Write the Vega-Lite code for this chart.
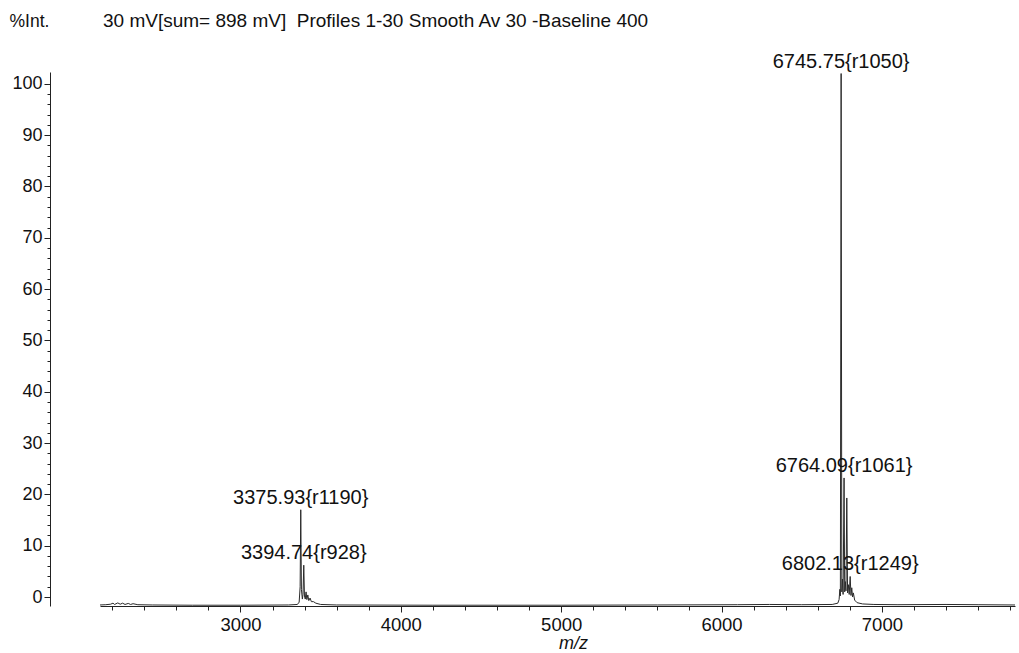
{
  "$schema": "https://vega.github.io/schema/vega-lite/v6.json",
  "width": 915,
  "height": 534,
  "autosize": {"type": "none"},
  "padding": {"left": 100, "top": 72, "right": 4, "bottom": 47},
  "background": "white",
  "config": {
    "view": {"stroke": null},
    "font": "Liberation Sans",
    "axis": {"grid": false, "domainColor": "#222", "tickColor": "#222", "labelColor": "#111", "titleColor": "#111", "labelFont": "Liberation Sans", "titleFont": "Liberation Sans", "titleFontWeight": "normal"}
  },
  "title": {
    "text": "30 mV[sum= 898 mV]\u00a0 Profiles 1-30 Smooth Av 30 -Baseline 400",
    "anchor": "start",
    "frame": "group",
    "offset": -19,
    "dx": 3,
    "fontSize": 19,
    "fontWeight": "normal",
    "font": "Liberation Sans",
    "color": "#111"
  },
  "datasets": {
    "spectrum": [
      {"mz": 2124, "intensity": -1.55},
      {"mz": 2160, "intensity": -1.5},
      {"mz": 2190, "intensity": -1.4},
      {"mz": 2205, "intensity": -1.2},
      {"mz": 2215, "intensity": -1.45},
      {"mz": 2235, "intensity": -1.15},
      {"mz": 2250, "intensity": -1.4},
      {"mz": 2265, "intensity": -1.2},
      {"mz": 2280, "intensity": -1.45},
      {"mz": 2300, "intensity": -1.25},
      {"mz": 2315, "intensity": -1.45},
      {"mz": 2330, "intensity": -1.3},
      {"mz": 2360, "intensity": -1.5},
      {"mz": 2450, "intensity": -1.55},
      {"mz": 2700, "intensity": -1.6},
      {"mz": 3000, "intensity": -1.6},
      {"mz": 3300, "intensity": -1.55},
      {"mz": 3355, "intensity": -1.45},
      {"mz": 3366, "intensity": -1.0},
      {"mz": 3372, "intensity": 2.0},
      {"mz": 3375.93, "intensity": 17.0, "res": 1190},
      {"mz": 3380, "intensity": 1.5},
      {"mz": 3386, "intensity": -0.4},
      {"mz": 3390, "intensity": 0.5},
      {"mz": 3394.74, "intensity": 6.2, "res": 928},
      {"mz": 3399, "intensity": 0.2},
      {"mz": 3404, "intensity": -0.4},
      {"mz": 3409, "intensity": 1.0},
      {"mz": 3414, "intensity": -0.5},
      {"mz": 3420, "intensity": 0.4},
      {"mz": 3426, "intensity": -0.7},
      {"mz": 3434, "intensity": -0.2},
      {"mz": 3442, "intensity": -0.9},
      {"mz": 3455, "intensity": -0.9},
      {"mz": 3470, "intensity": -1.2},
      {"mz": 3500, "intensity": -1.45},
      {"mz": 3600, "intensity": -1.55},
      {"mz": 4200, "intensity": -1.6},
      {"mz": 5000, "intensity": -1.6},
      {"mz": 5600, "intensity": -1.55},
      {"mz": 6100, "intensity": -1.5},
      {"mz": 6300, "intensity": -1.45},
      {"mz": 6500, "intensity": -1.5},
      {"mz": 6690, "intensity": -1.45},
      {"mz": 6725, "intensity": -1.2},
      {"mz": 6733, "intensity": -0.5},
      {"mz": 6738, "intensity": 1.5},
      {"mz": 6741, "intensity": 0.2},
      {"mz": 6745.75, "intensity": 102.0, "res": 1050},
      {"mz": 6750, "intensity": 1.0},
      {"mz": 6754, "intensity": 3.5},
      {"mz": 6758, "intensity": 0.5},
      {"mz": 6764.09, "intensity": 23.2, "res": 1061},
      {"mz": 6768, "intensity": 1.0},
      {"mz": 6772, "intensity": 3.0},
      {"mz": 6776, "intensity": 1.2},
      {"mz": 6781, "intensity": 19.3},
      {"mz": 6786, "intensity": 0.8},
      {"mz": 6791, "intensity": 2.4},
      {"mz": 6796, "intensity": 0.5},
      {"mz": 6802.13, "intensity": 4.0, "res": 1249},
      {"mz": 6807, "intensity": 0.3},
      {"mz": 6812, "intensity": 1.8},
      {"mz": 6817, "intensity": 0.0},
      {"mz": 6822, "intensity": 0.8},
      {"mz": 6830, "intensity": -0.6},
      {"mz": 6845, "intensity": -1.1},
      {"mz": 6880, "intensity": -1.35},
      {"mz": 6950, "intensity": -1.45},
      {"mz": 7100, "intensity": -1.5},
      {"mz": 7400, "intensity": -1.45},
      {"mz": 7600, "intensity": -1.5},
      {"mz": 7830, "intensity": -1.55}
    ]
  },
  "data": {"name": "spectrum"},
  "encoding": {
    "x": {
      "field": "mz",
      "type": "quantitative",
      "scale": {"domain": [2124, 7830], "nice": false, "zero": false},
      "axis": {
        "values": [2200, 2400, 2600, 2800, 3000, 3200, 3400, 3600, 3800, 4000, 4200, 4400, 4600, 4800, 5000, 5200, 5400, 5600, 5800, 6000, 6200, 6400, 6600, 6800, 7000, 7200, 7400, 7600, 7800],
        "labelExpr": "datum.value % 1000 === 0 ? datum.value : ''",
        "tickSize": {"condition": {"test": "datum.value % 1000 === 0", "value": 6}, "value": 4},
        "labelFontSize": 18.5,
        "labelPadding": 3,
        "labelFlush": false,
        "labelOverlap": false,
        "title": "m/z",
        "titleFontStyle": "italic",
        "titleFontSize": 18,
        "titleX": 473,
        "titleY": 37,
        "titleBaseline": "middle",
        "titleAlign": "center"
      }
    },
    "y": {
      "field": "intensity",
      "type": "quantitative",
      "scale": {"domain": [-1.75, 102.3], "nice": false, "zero": false},
      "axis": {
        "values": [0, 2, 4, 6, 8, 10, 12, 14, 16, 18, 20, 22, 24, 26, 28, 30, 32, 34, 36, 38, 40, 42, 44, 46, 48, 50, 52, 54, 56, 58, 60, 62, 64, 66, 68, 70, 72, 74, 76, 78, 80, 82, 84, 86, 88, 90, 92, 94, 96, 98, 100],
        "labelExpr": "datum.value % 10 === 0 ? datum.value : ''",
        "tickSize": {"condition": {"test": "datum.value % 10 === 0", "value": 6}, "value": 3},
        "offset": 50,
        "labelFontSize": 18,
        "labelPadding": 2,
        "labelFlush": false,
        "labelOverlap": false,
        "title": "%Int.",
        "titleAngle": 0,
        "titleAlign": "left",
        "titleBaseline": "middle",
        "titleFontSize": 17.5,
        "titleX": -41,
        "titleY": -51
      }
    }
  },
  "layer": [
    {
      "mark": {"type": "line", "color": "#2a2a2a", "strokeWidth": 1, "interpolate": "linear"}
    },
    {
      "transform": [
        {"filter": "isValid(datum.res)"},
        {"calculate": "format(datum.mz, '.2f') + '{r' + datum.res + '}'", "as": "label"}
      ],
      "mark": {"type": "text", "fontSize": 20, "align": "center", "baseline": "alphabetic", "dy": -6, "color": "#111", "font": "Liberation Sans"},
      "encoding": {"text": {"field": "label"}}
    }
  ]
}
